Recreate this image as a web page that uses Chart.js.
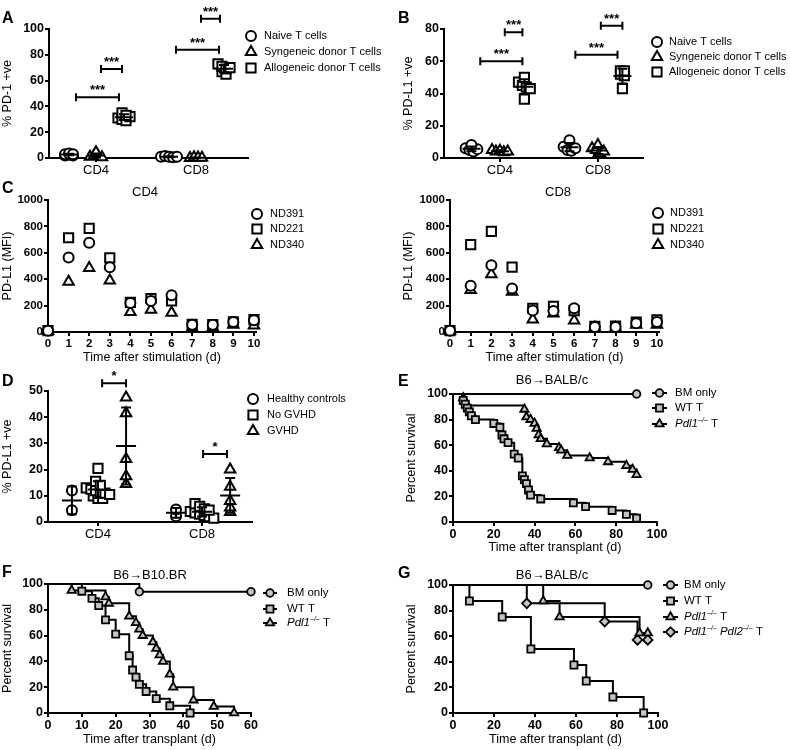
<!DOCTYPE html>
<html>
<head>
<meta charset="utf-8">
<title>PD-1 / PD-L1 figure</title>
<script src="https://cdn.jsdelivr.net/npm/chart.js@4.4.1/dist/chart.umd.min.js"></script>
<style>
  body{margin:0;background:#fff;}
  #fig{position:relative;width:790px;height:750px;overflow:hidden;}
  #fig canvas{position:absolute;}
</style>
</head>
<body>
<div id="fig"></div>
<script>
/* ---------- Data ---------- */
const cats = ['CD4', 'CD8'];

// A: % PD-1 +ve  (each array: [CD4 values, CD8 values])
const aLabels = ['Naive T cells', 'Syngeneic donor T cells', 'Allogeneic donor T cells'];
const aNaive = [[3, 2, 2.5, 3.5, 2, 3], [1, 1.5, 1, 0.5, 1]];
const aSyngeneic = [[1, 2, 4.5, 1.5, 0.5], [0, 0.5, 0.3, 0.2]];
const aAllogeneic = [[35, 33, 31, 30, 29, 32], [73, 71, 69, 67, 65, 70]];
const aTicks = [0, 20, 40, 60, 80, 100];
const aSig = [[0.8, 1.23, 47, '***'], [1.05, 1.26, 69, '***'], [1.8, 2.23, 84, '***'], [2.05, 2.24, 108, '***']];

// B: % PD-L1 +ve
const bNaive = [[8, 6, 5, 4, 5.5], [11, 7, 5, 4.5, 6]];
const bSyngeneic = [[5, 4, 4.5, 3.5, 4], [8, 6, 5, 3, 2, 4]];
const bAllogeneic = [[50, 47, 45, 44, 36.5, 43], [54, 54, 52, 51, 43]];
const bTicks = [0, 20, 40, 60, 80];
const bSig = [[0.8, 1.23, 60, '***'], [1.05, 1.23, 78, '***'], [1.77, 2.2, 64, '***'], [2.03, 2.25, 82, '***']];

// C: PD-L1 (MFI) by day after stimulation
const cDays = [0, 1, 2, 3, 4, 5, 6, 7, 8, 9, 10];
const cLabels = ['ND391', 'ND221', 'ND340'];
const cCD4ND391 = [10, 565, 676, 491, 220, 235, 278, 55, 55, 75, 89];
const cCD4ND221 = [10, 714, 785, 562, 225, 253, 235, 58, 56, 76, 94];
const cCD4ND340 = [8, 380, 485, 390, 152, 168, 145, 30, 35, 55, 50];
const cCD8ND391 = [10, 350, 505, 330, 162, 160, 180, 38, 37, 67, 75];
const cCD8ND221 = [10, 662, 762, 492, 180, 195, 162, 42, 45, 75, 92];
const cCD8ND340 = [8, 318, 437, 305, 95, 140, 87, 35, 32, 55, 55];
const cTicks = [0, 200, 400, 600, 800, 1000];

// D: patients
const dLabels = ['Healthy controls', 'No GVHD', 'GVHD'];
const dHealthy = [[12, 4.5], [4.8, 2.2]];
const dNoGvhd = [[20.5, 15.5, 14, 13, 12.5, 12, 11.5, 11, 10.5, 10, 9, 9], [7, 6, 5, 4.5, 4, 3.5, 3, 2.5, 2, 1.5]];
const dGvhd = [[47.5, 41.5, 24, 17.5, 14.5], [20, 13.5, 8, 5.5, 3.8]];
const dTicks = [0, 10, 20, 30, 40, 50];
const dSig = [[1.04, 1.27, 53, '*'], [2.01, 2.24, 26, '*']];

// E-G: survival (day of event, percent surviving after it)
const survLabels = ['BM only', 'WT T', 'Pdl1–/– T', 'Pdl1–/– Pdl2–/– T'];
const survTicks = [0, 20, 40, 60, 80, 100];
const fDayTicks = [0, 10, 20, 30, 40, 50, 60];

const eBMDays = [90], eBMSurv = [100];
const eWTDays = [5, 6, 7, 8, 9, 11, 20, 23, 24, 25, 27, 30, 32, 34, 35, 36, 37, 38, 43, 59, 65, 78, 85, 90];
const eWTSurv = [95, 92, 89, 86, 83, 80, 77, 74, 68, 65, 62, 53, 50, 36, 33, 30, 25, 21, 18, 15, 12, 9, 6, 3];
const ePdl1Days = [5, 6, 7, 35, 36, 38, 40, 41, 42, 43, 46, 52, 53, 56, 67, 76, 85, 88, 90];
const ePdl1Surv = [97, 94, 91, 88, 82, 80, 77, 73, 68, 65, 61, 58, 56, 52, 50, 47, 44, 41, 37];

const fBMDays = [27, 60], fBMSurv = [94, 94];
const fWTDays = [10, 13, 15, 17, 20, 24, 25, 26, 27, 29, 32, 36, 42];
const fWTSurv = [94.4, 88.9, 83.3, 72.2, 61.1, 44.4, 33.3, 27.8, 22.2, 16.7, 11.1, 5.6, 0];
const fPdl1Days = [7, 17, 18, 24, 26, 27, 28, 31, 32, 33, 34, 36, 37, 43, 49, 55];
const fPdl1Surv = [95, 90, 85, 75, 70, 65, 60, 55, 50, 45, 40, 30, 20, 10, 5, 0];

const gBMDays = [95], gBMSurv = [100];
const gWTDays = [8, 24, 38, 59, 65, 78, 93];
const gWTSurv = [87.5, 75, 50, 37.5, 25, 12.5, 0];
const gPdl1Days = [44, 52, 91, 95];
const gPdl1Surv = [87.5, 75, 62.5, 62.5];
const gPdl12Days = [36, 74, 90, 95];
const gPdl12Surv = [85.7, 71.4, 57.1, 57.1];

/* ---------- Shared look ---------- */
const FONT = '"Liberation Sans", Arial, Helvetica, sans-serif';
Chart.defaults.font.family = FONT;
Chart.defaults.color = '#000';

const MARK = { circle: 5, rect: 6.5, triangle: 6 };
const SURV_MARK = { circle: 3.8, rect: 5, triangle: 4.8, rectRot: 4.8 };

// spread overlapping dots sideways, like a dot plot
function swarm(vals, cx, bin, step){
  const bins = {};
  vals.forEach(v => { const k = Math.round(v / bin); (bins[k] = bins[k] || []).push(v); });
  const pts = [];
  Object.values(bins).forEach(g => g.forEach((v, i) => pts.push({ x: cx + (i - (g.length - 1) / 2) * step, y: v })));
  return pts;
}

function dotSets(labels, groups, shapes, offsets, bin, step){
  return labels.map((label, g) => ({
    label,
    data: groups[g].flatMap((vals, c) => swarm(vals, c + 1 + offsets[g], bin, step)),
    pointStyle: shapes[g], pointRadius: MARK[shapes[g]], pointBorderWidth: 2,
    pointBorderColor: '#000', pointBackgroundColor: '#fff', clip: false
  }));
}

function meanGroups(groups, offsets){
  return groups.flatMap((gv, g) => gv.map((vals, c) => ({ x: c + 1 + offsets[g], vals })));
}

function timeSets(labels, series){
  const shapes = ['circle', 'rect', 'triangle'];
  return labels.map((label, g) => ({
    label,
    data: cDays.map((d, i) => ({ x: d, y: series[g][i] })),
    pointStyle: shapes[g], pointRadius: MARK[shapes[g]],
    pointBorderWidth: 2, pointBorderColor: '#000', pointBackgroundColor: '#fff', clip: false
  }));
}

function survSet(label, days, surv, shape){
  const data = [{ x: 0, y: 100 }].concat(days.map((d, i) => ({ x: d, y: surv[i] })));
  return {
    label, data, stepped: true, fill: false, tension: 0,
    borderColor: '#000', borderWidth: 2,
    pointStyle: shape, pointRadius: data.map((d, i) => i ? SURV_MARK[shape] : 0),
    pointBorderWidth: 1.8, pointBorderColor: '#000', pointBackgroundColor: '#c4c4c4', clip: false
  };
}

// italic gene names and small superscript -/-
function drawRich(ctx, text, x, y, size){
  let cx = x;
  text.split(/(Pdl[12]|–\/–)/).filter(s => s).forEach(part => {
    let font = size + 'px ' + FONT, dy = 0;
    if (/^Pdl/.test(part)) font = 'italic ' + font;
    else if (part === '–/–'){ font = 'italic ' + Math.round(size * 0.6) + 'px ' + FONT; dy = -size * 0.35; }
    ctx.font = font;
    ctx.fillText(part, cx, y + dy);
    cx += ctx.measureText(part).width;
  });
}

/* ---------- Decorations: letters, headings, brackets, mean/SD, legends ---------- */
const deco = {
  id: 'deco',
  afterDraw(chart){
    const p = chart.canvas.deco;
    if(!p) return;
    const ctx = chart.ctx, ox = p.box.x, oy = p.box.y;
    const xs = chart.scales.x, ys = chart.scales.y;
    ctx.save();
    ctx.fillStyle = '#000'; ctx.strokeStyle = '#000';

    ctx.font = 'bold 16px ' + FONT; ctx.textAlign = 'left'; ctx.textBaseline = 'alphabetic';
    ctx.fillText(p.letter[0], p.letter[1] - ox, p.letter[2] - oy);

    if(p.heading){
      ctx.font = '13px ' + FONT; ctx.textAlign = 'center'; ctx.textBaseline = 'middle';
      ctx.fillText(p.heading[0], p.heading[1] - ox, p.heading[2] - oy);
    }

    ctx.lineWidth = 2;
    (p.sig || []).forEach(([a, b, v, txt]) => {
      const x1 = xs.getPixelForValue(a), x2 = xs.getPixelForValue(b), y = ys.getPixelForValue(v);
      ctx.beginPath();
      ctx.moveTo(x1, y); ctx.lineTo(x2, y);
      ctx.moveTo(x1, y - 4); ctx.lineTo(x1, y + 4);
      ctx.moveTo(x2, y - 4); ctx.lineTo(x2, y + 4);
      ctx.stroke();
      ctx.font = 'bold 13px ' + FONT; ctx.textAlign = 'center'; ctx.textBaseline = 'alphabetic';
      ctx.fillText(txt, (x1 + x2) / 2, y - 3);
    });

    (p.means || []).forEach(m => {
      const n = m.vals.length;
      const mean = m.vals.reduce((s, v) => s + v, 0) / n;
      const sd = n > 1 ? Math.sqrt(m.vals.reduce((s, v) => s + (v - mean) ** 2, 0) / (n - 1)) : 0;
      const px = xs.getPixelForValue(m.x), pm = ys.getPixelForValue(mean);
      const pt = ys.getPixelForValue(mean + sd), pb = ys.getPixelForValue(Math.max(mean - sd, ys.min));
      ctx.beginPath();
      ctx.moveTo(px - p.meanHalf, pm); ctx.lineTo(px + p.meanHalf, pm);
      ctx.moveTo(px, pt); ctx.lineTo(px, pb);
      ctx.moveTo(px - 5, pt); ctx.lineTo(px + 5, pt);
      ctx.moveTo(px - 5, pb); ctx.lineTo(px + 5, pb);
      ctx.stroke();
    });

    const lg = p.legend;
    chart.data.datasets.forEach((ds, i) => {
      const y = lg.ys[i] - oy;
      let mx = lg.x - ox;
      if(lg.lineTo){
        ctx.lineWidth = 2;
        ctx.beginPath(); ctx.moveTo(lg.x - ox, y); ctx.lineTo(lg.lineTo - ox, y); ctx.stroke();
        mx = (lg.x + lg.lineTo) / 2 - ox;
      }
      const r = Array.isArray(ds.pointRadius) ? ds.pointRadius[ds.pointRadius.length - 1] : ds.pointRadius;
      ctx.fillStyle = ds.pointBackgroundColor; ctx.lineWidth = ds.pointBorderWidth;
      Chart.helpers.drawPoint(ctx, { pointStyle: ds.pointStyle, radius: r, borderWidth: ds.pointBorderWidth, rotation: 0 }, mx, y);
      ctx.fillStyle = '#000'; ctx.textAlign = 'left'; ctx.textBaseline = 'middle';
      drawRich(ctx, ds.label, lg.tx - ox, y, lg.size);
    });
    ctx.restore();
  }
};
Chart.register(deco);

/* ---------- Panel builder ---------- */
function axis(o, box, horizontal, size){
  const title = o.title ? {
    display: true, text: o.title[0], color: '#000', font: { size: 12.5 },
    padding: horizontal
      ? { top: 0, bottom: box.y + box.h - o.title[1] - 7.5 }
      : { top: o.title[1] - box.x - 7.5, bottom: 0 }
  } : { display: false };
  return {
    type: 'linear', min: o.min, max: o.max,
    afterBuildTicks: s => { s.ticks = o.ticks.map(v => ({ value: v })); },
    afterFit: s => { if(horizontal) s.height = size; else s.width = size; },
    ticks: {
      autoSkip: false, maxRotation: 0, minRotation: 0, padding: 1, color: '#000',
      font: o.labels ? { size: 13 } : { size: o.tickSize || 12.5, weight: 'bold' },
      callback: v => o.labels ? o.labels[Math.round(v) - 1] : String(v)
    },
    grid: { drawOnChartArea: false, drawTicks: true, tickLength: 4, tickWidth: 2, tickColor: '#000', color: '#000', lineWidth: 2 },
    border: { display: true, color: '#000', width: 2 },
    title
  };
}

function makePanel(p){
  const cv = document.createElement('canvas');
  cv.width = p.box.w; cv.height = p.box.h;
  cv.style.left = p.box.x + 'px'; cv.style.top = p.box.y + 'px';
  document.getElementById('fig').appendChild(cv);
  cv.deco = p;
  const yW = p.area.L - p.box.x, xH = p.box.y + p.box.h - p.area.B;
  return new Chart(cv, {
    type: p.type,
    data: { datasets: p.datasets },
    options: {
      responsive: false, animation: false, events: [],
      layout: { padding: { left: 0, top: p.area.T - p.box.y, right: p.box.x + p.box.w - p.area.R, bottom: 0 } },
      scales: { x: axis(p.x, p.box, true, xH), y: axis(p.y, p.box, false, yW) },
      plugins: { legend: { display: false }, tooltip: { enabled: false } }
    }
  });
}

/* ---------- A ---------- */
const abShapes = ['circle', 'triangle', 'rect'];
const aGroups = [aNaive, aSyngeneic, aAllogeneic], aOff = [-0.27, 0, 0.28];
makePanel({
  type: 'scatter', box: { x: 0, y: 0, w: 395, h: 180 }, area: { L: 49, T: 29, R: 248, B: 158 },
  x: { min: 0.53, max: 2.52, ticks: [1, 2], labels: cats },
  y: { min: 0, max: 100, ticks: aTicks, title: ['% PD-1 +ve', 8] },
  datasets: dotSets(aLabels, aGroups, abShapes, aOff, 6, 0.04),
  letter: ['A', 2, 23], sig: aSig, means: meanGroups(aGroups, aOff), meanHalf: 9,
  legend: { x: 251, tx: 264, ys: [36, 52, 68], size: 11 }
});

/* ---------- B ---------- */
const bGroups = [bNaive, bSyngeneic, bAllogeneic], bOff = [-0.29, 0, 0.25];
makePanel({
  type: 'scatter', box: { x: 395, y: 0, w: 395, h: 180 }, area: { L: 444, T: 29, R: 643, B: 158 },
  x: { min: 0.43, max: 2.46, ticks: [1, 2], labels: cats },
  y: { min: 0, max: 80, ticks: bTicks, title: ['% PD-L1 +ve', 409] },
  datasets: dotSets(aLabels, bGroups, abShapes, bOff, 5, 0.04),
  letter: ['B', 398, 23], sig: bSig, means: meanGroups(bGroups, bOff), meanHalf: 9,
  legend: { x: 657, tx: 669, ys: [42, 57, 72], size: 11 }
});

/* ---------- C ---------- */
makePanel({
  type: 'scatter', box: { x: 0, y: 178, w: 395, h: 195 }, area: { L: 48, T: 200, R: 256, B: 332 },
  x: { min: 0, max: 10.1, ticks: cDays, tickSize: 11.5, title: ['Time after stimulation (d)', 358] },
  y: { min: 0, max: 1000, ticks: cTicks, tickSize: 11.5, title: ['PD-L1 (MFI)', 8] },
  datasets: timeSets(cLabels, [cCD4ND391, cCD4ND221, cCD4ND340]),
  letter: ['C', 2, 193], heading: ['CD4', 145, 192],
  legend: { x: 257, tx: 270, ys: [214, 229, 245], size: 11 }
});
makePanel({
  type: 'scatter', box: { x: 395, y: 178, w: 395, h: 195 }, area: { L: 450, T: 200, R: 659, B: 332 },
  x: { min: 0, max: 10.1, ticks: cDays, tickSize: 11.5, title: ['Time after stimulation (d)', 358] },
  y: { min: 0, max: 1000, ticks: cTicks, tickSize: 11.5, title: ['PD-L1 (MFI)', 409] },
  datasets: timeSets(cLabels, [cCD8ND391, cCD8ND221, cCD8ND340]),
  letter: ['', 0, 0], heading: ['CD8', 558, 192],
  legend: { x: 658, tx: 670, ys: [213, 229, 245], size: 11 }
});

/* ---------- D ---------- */
const dGroups = [dHealthy, dNoGvhd, dGvhd], dOff = [-0.25, 0, 0.27];
makePanel({
  type: 'scatter', box: { x: 0, y: 365, w: 395, h: 190 }, area: { L: 48, T: 391, R: 252, B: 522 },
  x: { min: 0.52, max: 2.48, ticks: [1, 2], labels: cats },
  y: { min: 0, max: 50, ticks: dTicks, title: ['% PD-L1 +ve', 8] },
  datasets: dotSets(dLabels, dGroups, ['circle', 'rect', 'triangle'], dOff, 3, 0.045),
  letter: ['D', 2, 386], sig: dSig, means: meanGroups(dGroups, dOff), meanHalf: 10,
  legend: { x: 253, tx: 267, ys: [399, 415, 431], size: 11 }
});

/* ---------- E ---------- */
makePanel({
  type: 'line', box: { x: 395, y: 365, w: 395, h: 190 }, area: { L: 453, T: 394, R: 657, B: 522 },
  x: { min: 0, max: 100, ticks: survTicks, title: ['Time after transplant (d)', 548] },
  y: { min: 0, max: 100, ticks: survTicks, title: ['Percent survival', 412] },
  datasets: [
    survSet(survLabels[0], eBMDays, eBMSurv, 'circle'),
    survSet(survLabels[1], eWTDays, eWTSurv, 'rect'),
    survSet(survLabels[2], ePdl1Days, ePdl1Surv, 'triangle')
  ],
  letter: ['E', 398, 386], heading: ['B6→BALB/c', 552, 380],
  legend: { x: 652, lineTo: 667, tx: 675, ys: [393, 408, 424], size: 11.5 }
});

/* ---------- F ---------- */
makePanel({
  type: 'line', box: { x: 0, y: 555, w: 395, h: 195 }, area: { L: 48, T: 584, R: 251, B: 713 },
  x: { min: 0, max: 60, ticks: fDayTicks, title: ['Time after transplant (d)', 740] },
  y: { min: 0, max: 100, ticks: survTicks, title: ['Percent survival', 8] },
  datasets: [
    survSet(survLabels[0], fBMDays, fBMSurv, 'circle'),
    survSet(survLabels[1], fWTDays, fWTSurv, 'rect'),
    survSet(survLabels[2], fPdl1Days, fPdl1Surv, 'triangle')
  ],
  letter: ['F', 2, 577], heading: ['B6→B10.BR', 150, 575],
  legend: { x: 263, lineTo: 277, tx: 287, ys: [593, 609, 623], size: 11.5 }
});

/* ---------- G ---------- */
makePanel({
  type: 'line', box: { x: 395, y: 555, w: 395, h: 195 }, area: { L: 453, T: 585, R: 658, B: 713 },
  x: { min: 0, max: 100, ticks: survTicks, title: ['Time after transplant (d)', 740] },
  y: { min: 0, max: 100, ticks: survTicks, title: ['Percent survival', 412] },
  datasets: [
    survSet(survLabels[0], gBMDays, gBMSurv, 'circle'),
    survSet(survLabels[1], gWTDays, gWTSurv, 'rect'),
    survSet(survLabels[2], gPdl1Days, gPdl1Surv, 'triangle'),
    survSet(survLabels[3], gPdl12Days, gPdl12Surv, 'rectRot')
  ],
  letter: ['G', 398, 578], heading: ['B6→BALB/c', 552, 575],
  legend: { x: 663, lineTo: 678, tx: 684, ys: [585, 601, 617, 632], size: 11.5 }
});
</script>
</body>
</html>
